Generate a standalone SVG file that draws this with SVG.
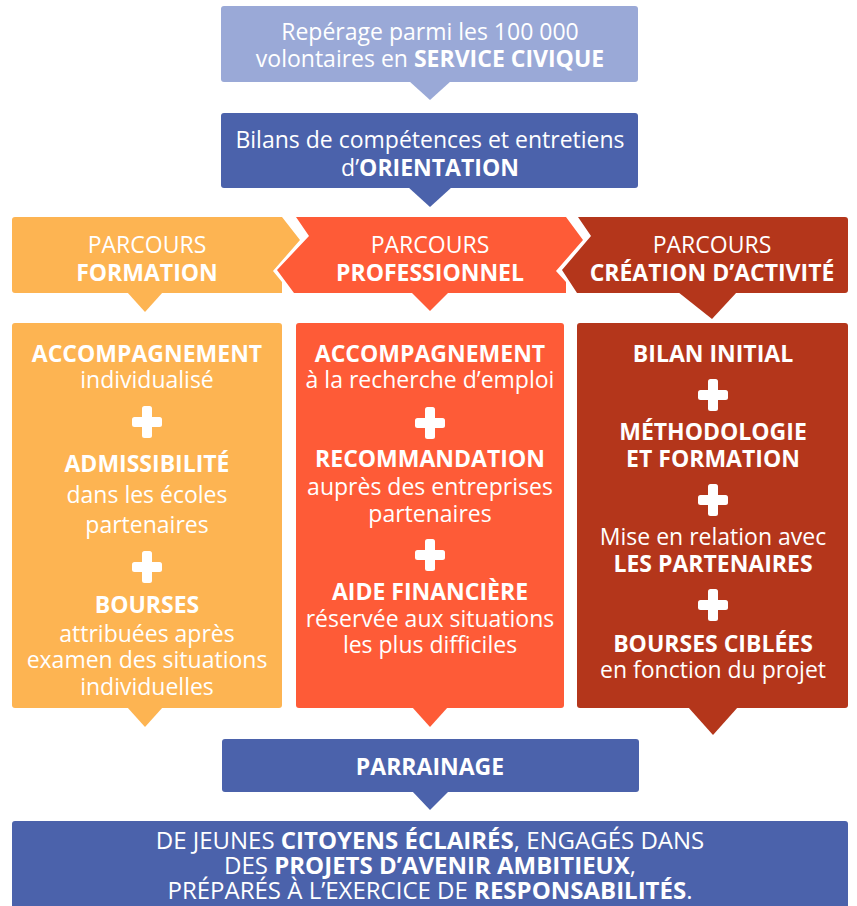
<svg xmlns="http://www.w3.org/2000/svg" xmlns:xlink="http://www.w3.org/1999/xlink" width="857" height="906" viewBox="0 0 857 906">
<style>
text{font-family:"Open Sans","Noto Sans","DejaVu Sans",sans-serif;fill:#ffffff;text-anchor:middle;font-size:23px}
.b{font-weight:700}
.big{font-size:24px}
.lb{fill:#9AA9D7}
.db{fill:#4B62AB}
.or{fill:#FDB452}
.rd{fill:#FE5B37}
.br{fill:#B4361B}
</style>
<defs>
<g id="plus">
<rect x="-15" y="-5" width="30" height="10" rx="2.5" fill="#ffffff"/>
<rect x="-5" y="-16" width="10" height="32" rx="2.5" fill="#ffffff"/>
</g>
</defs>

<g id="connectors">
<polygon class="lb" points="409,81 451,81 430,100"/>
<polygon class="db" points="408,187 452,187 430,207"/>
<polygon class="or" points="127,292 163,292 145,312"/>
<polygon class="rd" points="411,292 449,292 430,311"/>
<polygon class="br" points="678,292 737,292 712,319"/>
<polygon class="or" points="127,707 163,707 145,727"/>
<polygon class="rd" points="412,707 448,707 430,727"/>
<polygon class="br" points="688,707 738,707 713,735"/>
<polygon class="db" points="412,791 449,791 430,810"/>
</g>

<g id="node-service-civique">
<rect class="lb" x="221" y="6" width="417" height="76" rx="3"/>
<text><tspan x="430" y="40">Repérage parmi les 100 000</tspan><tspan x="430" y="67">volontaires en <tspan class="b">SERVICE CIVIQUE</tspan></tspan></text>
</g>

<g id="node-orientation">
<rect class="db" x="221" y="113" width="417" height="75" rx="3"/>
<text><tspan x="430" y="148">Bilans de compétences et entretiens</tspan><tspan x="430" y="176">d’<tspan class="b">ORIENTATION</tspan></tspan></text>
</g>

<g id="node-parcours-formation">
<path class="or" d="M15,217 H282 L300,240 L273,271 L282,282 V293 H15 Q12,293 12,290 V220 Q12,217 15,217 Z"/>
<text><tspan x="147" y="253">PARCOURS</tspan><tspan x="147" y="281" class="b">FORMATION</tspan></text>
</g>

<g id="node-parcours-professionnel">
<path class="rd" d="M296,217 H566 L583,240 L556,271 L566,282 V293 H294 L277,270 L309,236 Z"/>
<text><tspan x="430" y="253">PARCOURS</tspan><tspan x="430" y="281" class="b">PROFESSIONNEL</tspan></text>
</g>

<g id="node-parcours-creation">
<path class="br" d="M578,217 H845 Q848,217 848,220 V290 Q848,293 845,293 H577 L562,270 L591,236 Z"/>
<text><tspan x="712" y="253">PARCOURS</tspan><tspan x="712" y="281" class="b">CRÉATION D’ACTIVITÉ</tspan></text>
</g>

<g id="node-formation">
<rect class="or" x="12" y="323" width="270" height="385" rx="3"/>
<text><tspan x="147" y="362" class="b">ACCOMPAGNEMENT</tspan><tspan x="147" y="388">individualisé</tspan></text>
<use xlink:href="#plus" x="147" y="422"/>
<text><tspan x="147" y="472" class="b">ADMISSIBILITÉ</tspan><tspan x="147" y="503">dans les écoles</tspan><tspan x="147" y="533">partenaires</tspan></text>
<use xlink:href="#plus" x="147" y="567"/>
<text><tspan x="147" y="613" class="b">BOURSES</tspan><tspan x="147" y="642">attribuées après</tspan><tspan x="147" y="668">examen des situations</tspan><tspan x="147" y="695">individuelles</tspan></text>
</g>

<g id="node-professionnel">
<rect class="rd" x="296" y="323" width="268" height="385" rx="3"/>
<text><tspan x="430" y="362" class="b">ACCOMPAGNEMENT</tspan><tspan x="430" y="388">à la recherche d’emploi</tspan></text>
<use xlink:href="#plus" x="430" y="423"/>
<text><tspan x="430" y="467" class="b">RECOMMANDATION</tspan><tspan x="430" y="495">auprès des entreprises</tspan><tspan x="430" y="522">partenaires</tspan></text>
<use xlink:href="#plus" x="430" y="555"/>
<text><tspan x="430" y="600" class="b">AIDE FINANCIÈRE</tspan><tspan x="430" y="627">réservée aux situations</tspan><tspan x="430" y="653">les plus difficiles</tspan></text>
</g>

<g id="node-creation">
<rect class="br" x="577" y="323" width="271" height="385" rx="3"/>
<text x="713" y="362" class="b">BILAN INITIAL</text>
<use xlink:href="#plus" x="713" y="395"/>
<text class="b"><tspan x="713" y="440">MÉTHODOLOGIE</tspan><tspan x="713" y="467">ET FORMATION</tspan></text>
<use xlink:href="#plus" x="713" y="500"/>
<text><tspan x="713" y="545">Mise en relation avec</tspan><tspan x="713" y="572" class="b">LES PARTENAIRES</tspan></text>
<use xlink:href="#plus" x="713" y="605"/>
<text><tspan x="713" y="652" class="b">BOURSES CIBLÉES</tspan><tspan x="713" y="678">en fonction du projet</tspan></text>
</g>

<g id="node-parrainage">
<rect class="db" x="222" y="739" width="417" height="53" rx="3"/>
<text x="430" y="775" class="b">PARRAINAGE</text>
</g>

<g id="node-resultat">
<rect class="db" x="12" y="821" width="836" height="95" rx="3"/>
<text class="big"><tspan x="430" y="849">DE JEUNES <tspan class="b">CITOYENS ÉCLAIRÉS</tspan>, ENGAGÉS DANS</tspan><tspan x="430" y="874">DES <tspan class="b">PROJETS D’AVENIR AMBITIEUX</tspan>,</tspan><tspan x="430" y="899">PRÉPARÉS À L’EXERCICE DE <tspan class="b">RESPONSABILITÉS</tspan>.</tspan></text>
</g>
</svg>
